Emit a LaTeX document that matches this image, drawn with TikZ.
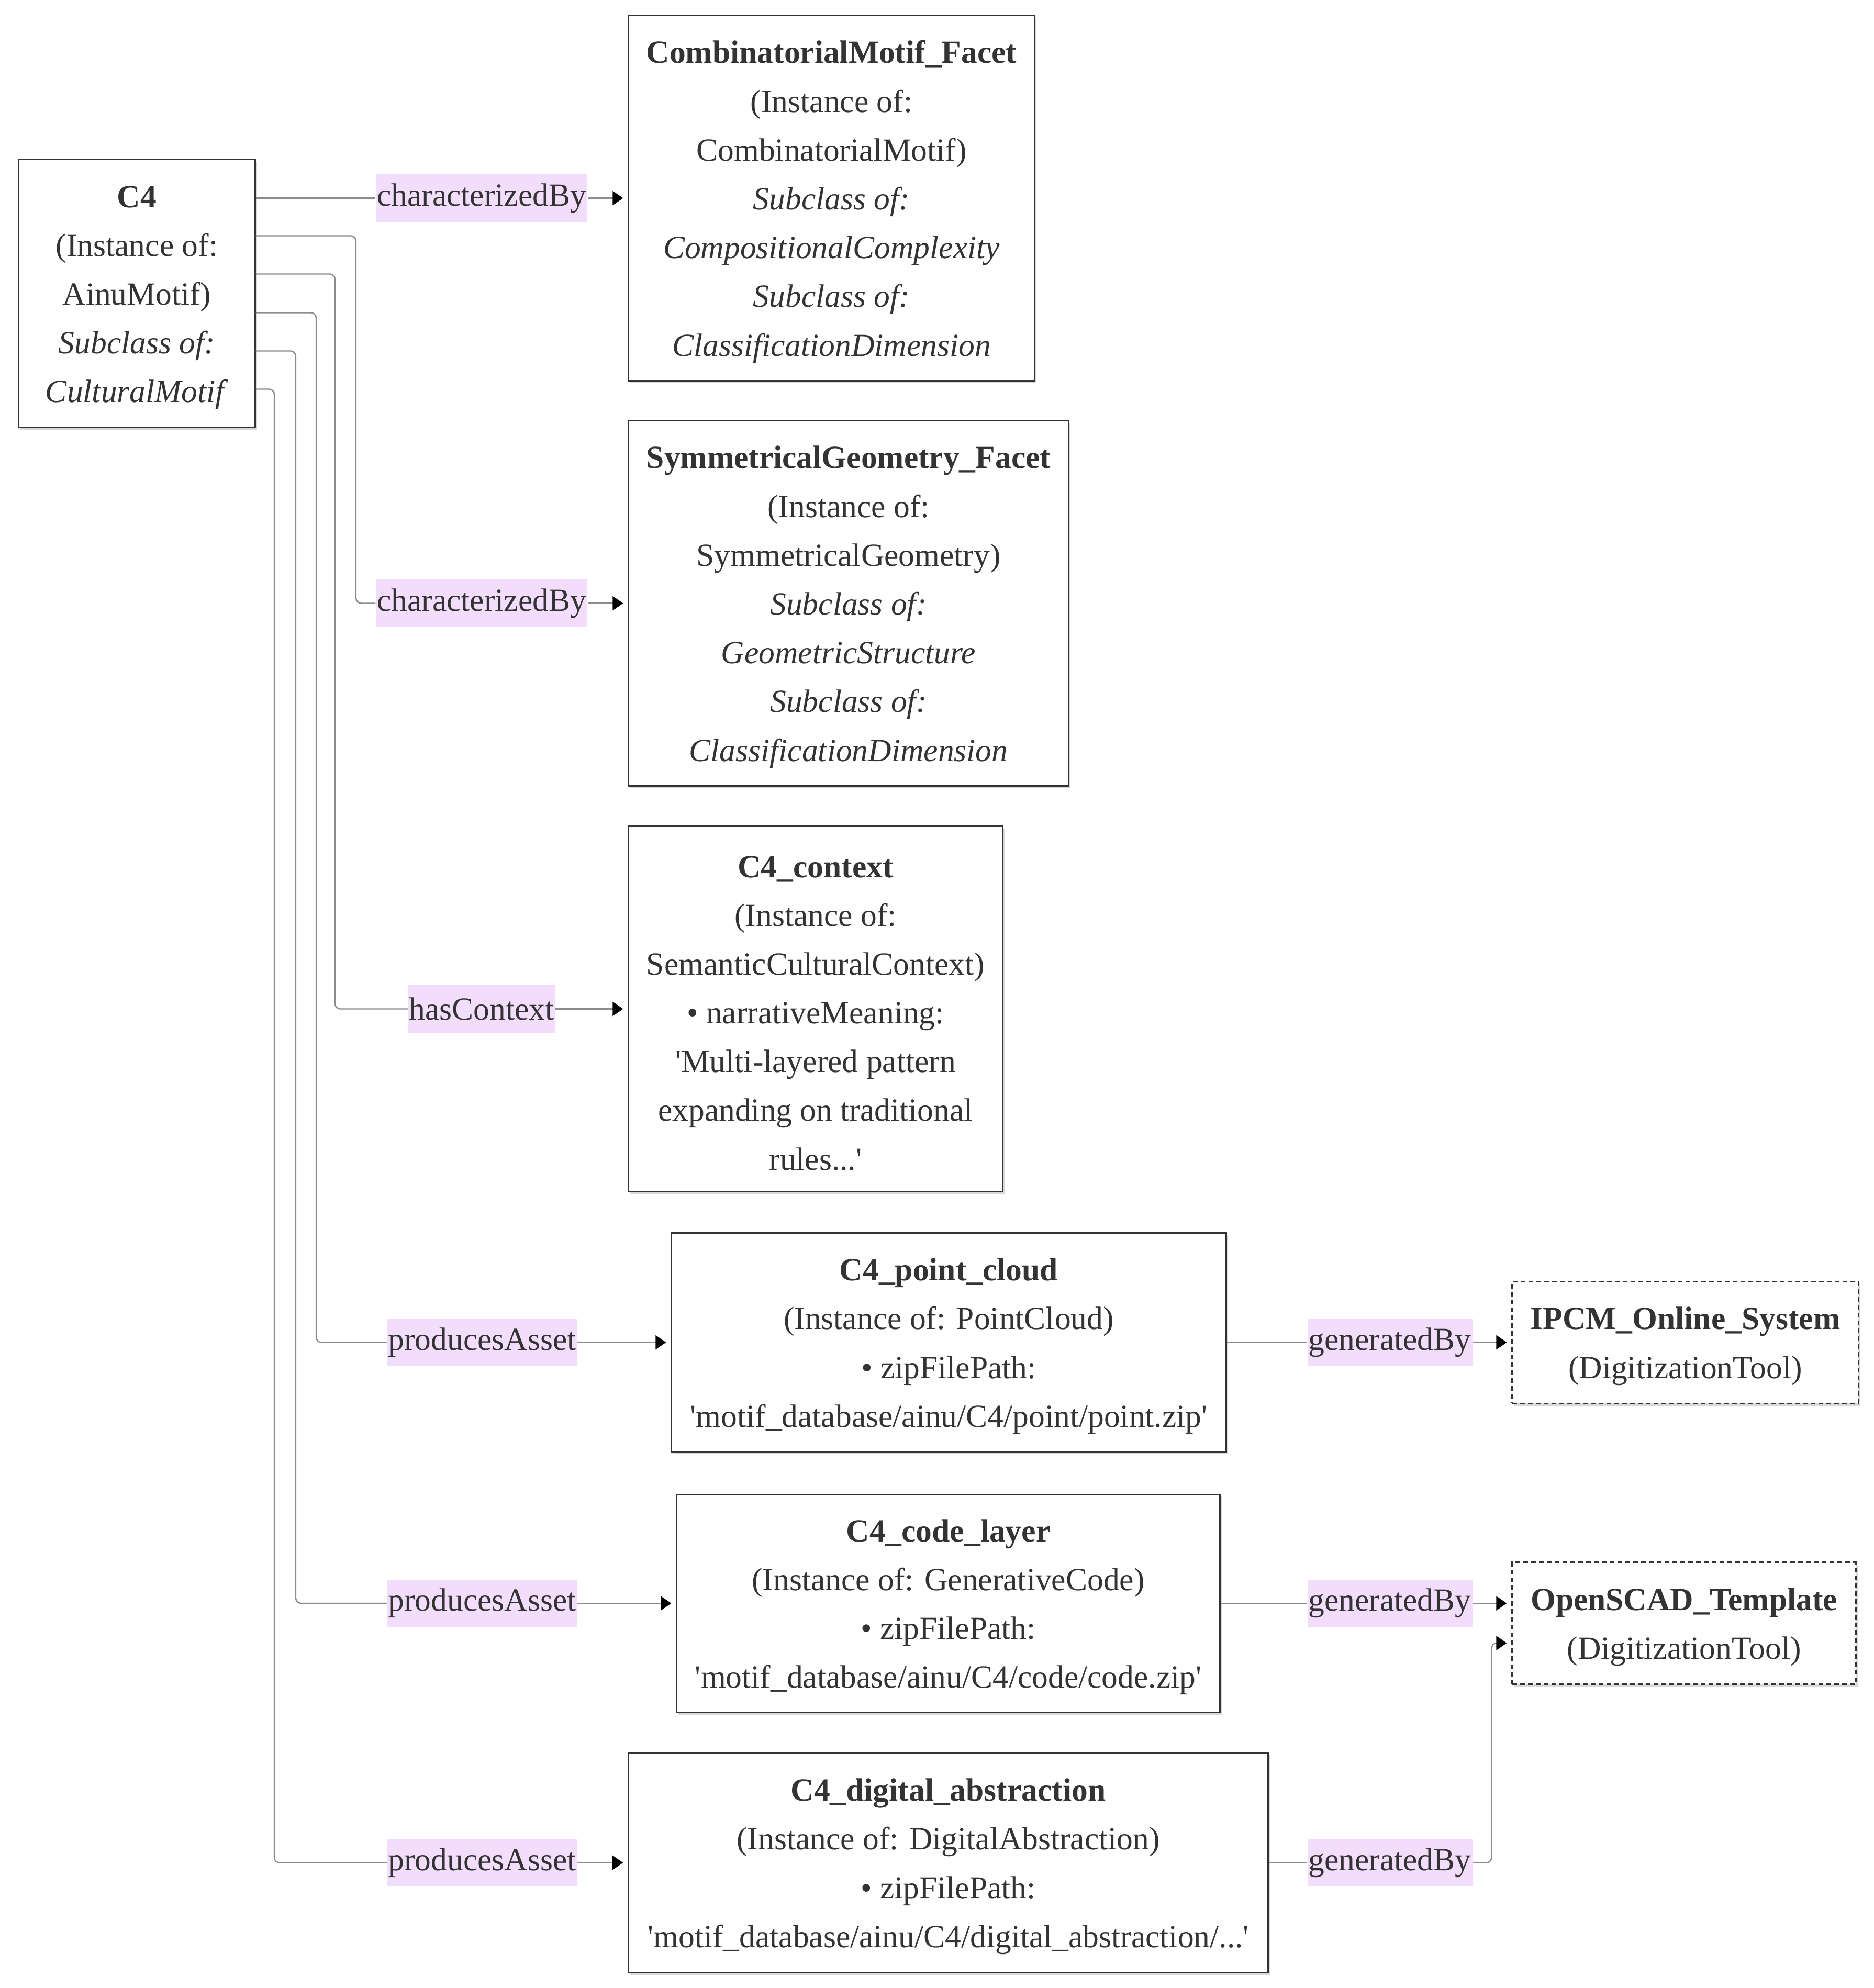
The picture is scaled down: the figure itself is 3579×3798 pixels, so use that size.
\documentclass[tikz,border=0pt]{standalone}
\usepackage{fontspec}
\setmainfont{Liberation Serif}
\usetikzlibrary{arrows.meta,calc,shadows}
\definecolor{RelationPink}{HTML}{F3DDFC}
\definecolor{BoxInk}{HTML}{333333}
\definecolor{EdgeGray}{HTML}{8C8C8C}
\newcommand{\headstrut}{\rule{0pt}{0.57cm}}

\begin{document}
\begin{tikzpicture}[x=0.01cm,y=-0.01cm,
  every node/.style={font=\fontsize{17.5}{26.5}\selectfont, text=BoxInk},
  entity/.style={draw=BoxInk, line width=0.8pt, fill=white, align=center, inner sep=0pt,
    drop shadow={shadow xshift=0.035cm, shadow yshift=-0.045cm, opacity=0.3}},
  tool/.style={entity, dash pattern=on 0.09cm off 0.06cm},
  relation/.style={fill=RelationPink, inner xsep=0.02cm, inner ysep=0pt, minimum height=0.9cm},
  link/.style={draw=EdgeGray, line width=0.7pt, rounded corners=0.1cm},
  into/.style={link, -{Triangle[length=0.2cm,width=0.27cm,color=black]}, shorten >=0.09cm}]
  \useasboundingbox (0,0) rectangle (3579,3798);

  \node[entity, minimum width=4.51cm, minimum height=5.11cm] (c4) at (261.5,560.5)
    {\headstrut\textbf{C4}\\(Instance of:\\AinuMotif)\\\textit{Subclass of:}\\\textit{CulturalMotif}};
  \node[entity, minimum width=7.75cm, minimum height=6.97cm] (comb) at (1588.5,378.5)
    {\headstrut\textbf{CombinatorialMotif\_Facet}\\(Instance of:\\CombinatorialMotif)\\\textit{Subclass of:}\\\textit{CompositionalComplexity}\\\textit{Subclass of:}\\\textit{ClassificationDimension}};
  \node[entity, minimum width=8.40cm, minimum height=6.97cm] (sym) at (1621,1152.5)
    {\headstrut\textbf{SymmetricalGeometry\_Facet}\\(Instance of:\\SymmetricalGeometry)\\\textit{Subclass of:}\\\textit{GeometricStructure}\\\textit{Subclass of:}\\\textit{ClassificationDimension}};
  \node[entity, minimum width=7.14cm, minimum height=6.97cm] (ctx) at (1558,1927.5)
    {\headstrut\textbf{C4\_context}\\(Instance of:\\SemanticCulturalContext)\\• narrativeMeaning:\\\textquotesingle Multi-layered pattern\\expanding on traditional\\rules...\textquotesingle};
  \node[entity, minimum width=10.59cm, minimum height=4.17cm] (pc) at (1812.5,2564.5)
    {\headstrut\textbf{C4\_point\_cloud}\\(Instance of: PointCloud)\\• zipFilePath:\\\textquotesingle motif\_database/ainu/C4/point/point.zip\textquotesingle};
  \node[entity, minimum width=10.37cm, minimum height=4.16cm] (code) at (1811.5,3063)
    {\headstrut\textbf{C4\_code\_layer}\\(Instance of: GenerativeCode)\\• zipFilePath:\\\textquotesingle motif\_database/ainu/C4/code/code.zip\textquotesingle};
  \node[entity, minimum width=12.21cm, minimum height=4.19cm] (dig) at (1811.5,3558.5)
    {\headstrut\textbf{C4\_digital\_abstraction}\\(Instance of: DigitalAbstraction)\\• zipFilePath:\\\textquotesingle motif\_database/ainu/C4/digital\_abstraction/...\textquotesingle};
  \node[tool, minimum width=6.61cm, minimum height=2.33cm] (ipcm) at (3219.5,2564.5)
    {\headstrut\textbf{IPCM\_Online\_System}\\(DigitizationTool)};
  \node[tool, minimum width=6.56cm, minimum height=2.33cm] (ocad) at (3217,3101)
    {\headstrut\textbf{OpenSCAD\_Template}\\(DigitizationTool)};

  \node[relation] (cb1) at (920,378.5) {characterizedBy};
  \node[relation] (cb2) at (920,1152.5) {characterizedBy};
  \node[relation] (hc) at (920,1927.5) {hasContext};
  \node[relation] (pa1) at (921,2564.5) {producesAsset};
  \node[relation] (pa2) at (921,3063) {producesAsset};
  \node[relation] (pa3) at (921,3558.5) {producesAsset};
  \node[relation] (gb1) at (2655,2564.5) {generatedBy};
  \node[relation] (gb2) at (2655,3063) {generatedBy};
  \node[relation] (gb3) at (2655,3558.5) {generatedBy};

  \foreach \i/\dy in {1/-182,2/-110,3/-37,4/37,5/110,6/183}
    \coordinate (out\i) at ($(c4.east)+(0,\dy)$);
  \foreach \i/\bx in {2/680,3/640,4/604,5/565,6/524}
    \coordinate (bend\i) at (\bx,0);
  \coordinate (ocadin1) at ($(ocad.west)+(0,-38)$);
  \coordinate (ocadin2) at ($(ocad.west)+(0,38)$);

  \draw[link] (out1) -- (cb1.west);
  \draw[into] (cb1.east) -- (comb.west);
  \draw[link] (out2) -| (bend2 |- cb2.west) -- (cb2.west);
  \draw[into] (cb2.east) -- (sym.west);
  \draw[link] (out3) -| (bend3 |- hc.west) -- (hc.west);
  \draw[into] (hc.east) -- (ctx.west);
  \draw[link] (out4) -| (bend4 |- pa1.west) -- (pa1.west);
  \draw[into] (pa1.east) -- (pc.west);
  \draw[link] (out5) -| (bend5 |- pa2.west) -- (pa2.west);
  \draw[into] (pa2.east) -- (code.west);
  \draw[link] (out6) -| (bend6 |- pa3.west) -- (pa3.west);
  \draw[into] (pa3.east) -- (dig.west);

  \draw[link] (pc.east) -- (gb1.west);
  \draw[into] (gb1.east) -- (ipcm.west);
  \draw[link] (code.east) -- (gb2.west);
  \draw[into] (gb2.east) -- (ocadin1);
  \draw[link] (dig.east) -- (gb3.west);
  \draw[into] (gb3.east) -| ($(ocadin2)+(-38,0)$) -- (ocadin2);
\end{tikzpicture}
\end{document}
